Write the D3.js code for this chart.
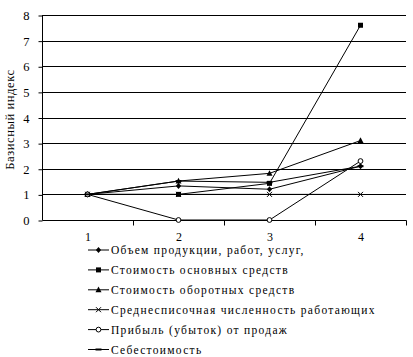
<!DOCTYPE html>
<html><head><meta charset="utf-8">
<script src="https://cdn.jsdelivr.net/npm/d3@7"></script>
<style>body{margin:0;background:#fff}svg{display:block}text{font-family:"Liberation Serif","Times New Roman",serif}</style>
</head><body><svg id="c" width="413" height="357"></svg>
<script>
const categories = ["1","2","3","4"];
const yTicks = [0,1,2,3,4,5,6,7,8];
const seriesNames = [
  "Объем продукции, работ, услуг,",
  "Стоимость основных средств",
  "Стоимость оборотных средств",
  "Среднесписочная численность работающих",
  "Прибыль (убыток) от продаж",
  "Себестоимость"
];
const markers = ["diamond","square","triangle","cross","circle","dash"];
const volume   = [1, 1.33, 1.2, 2.1];
const fixedAss = [1, 1.0, 1.43, 7.6];
const current  = [1, 1.52, 1.82, 3.1];
const staff    = [1, 1, 1, 1];
const profit   = [1, 0, 0, 2.3];
const cost     = [1, 1.52, 1.47, 2.1];
const seriesValues = [volume, fixedAss, current, staff, profit, cost];

const svg = d3.select("#c");
const mL = 42, mR = 406, mT = 15, mB = 220;
const x = d3.scaleBand().domain(categories).range([mL, mR]);
const y = d3.scaleLinear().domain([0, 8]).range([mB, mT]);

// gridlines
svg.append("g").selectAll("line").data(yTicks.slice(1)).join("line")
  .attr("x1", mL).attr("x2", mR)
  .attr("y1", d => Math.round(y(d)) + 0.5).attr("y2", d => Math.round(y(d)) + 0.5)
  .attr("stroke", "#000").attr("stroke-width", 1);

// y axis
const yAxis = d3.axisLeft(y).tickValues(yTicks).tickSize(4).tickPadding(9);
const gy = svg.append("g").attr("transform", `translate(${mL + 0.5},0.5)`).call(yAxis);
gy.select(".domain").attr("d", `M0,${y(8)}V${y(0)}`);
gy.selectAll("text").attr("font-size", 12.5).attr("font-family", "Liberation Serif");

// x axis
const xAxis = d3.axisBottom(x).tickSize(0).tickPadding(12);
const gx = svg.append("g").attr("transform", `translate(0.5,${mB + 0.5})`).call(xAxis);
gx.select(".domain").attr("d", `M${mL},0H${mR}`);
gx.selectAll("text").attr("font-size", 12).attr("font-family", "Liberation Serif");
gx.selectAll(".bt").data(categories).join("line").attr("class","bt")
  .attr("x1", d => x(d) + x.bandwidth()).attr("x2", d => x(d) + x.bandwidth())
  .attr("y1", 0).attr("y2", 5).attr("stroke", "#000");

// y title
svg.append("text").attr("transform", `translate(14,${(mT + mB) / 2 + 2}) rotate(-90)`)
  .attr("text-anchor", "middle").attr("font-size", 12.5).attr("letter-spacing", 0.6).text("Базисный индекс");

function drawMarker(g, type, cx, cy) {
  const s = 2.6;
  if (type === "diamond") g.append("path").attr("d", `M${cx},${cy-s-0.5}L${cx+s},${cy}L${cx},${cy+s+0.5}L${cx-s},${cy}Z`).attr("fill","#000");
  else if (type === "square") g.append("rect").attr("x", cx-2.5).attr("y", cy-2.5).attr("width",5).attr("height",5).attr("fill","#000");
  else if (type === "triangle") g.append("path").attr("d", `M${cx},${cy-3.2}L${cx+3},${cy+2.5}L${cx-3},${cy+2.5}Z`).attr("fill","#000");
  else if (type === "cross") g.append("path").attr("d", `M${cx-2.5},${cy-2.5}L${cx+2.5},${cy+2.5}M${cx-2.5},${cy+2.5}L${cx+2.5},${cy-2.5}`).attr("stroke","#000").attr("stroke-width",1);
  else if (type === "circle") g.append("circle").attr("cx",cx).attr("cy",cy).attr("r",2.4).attr("fill","#fff").attr("stroke","#000").attr("stroke-width",1);
  else if (type === "dash") g.append("path").attr("d", `M${cx-3},${cy}H${cx+3}`).attr("stroke","#000").attr("stroke-width",2);
}

const line = d3.line().x((d, i) => x(categories[i]) + x.bandwidth() / 2).y(d => y(d));
const plot = svg.append("g");
seriesValues.forEach((vals, si) => {
  plot.append("path").attr("d", line(vals)).attr("fill", "none").attr("stroke", "#000").attr("stroke-width", 1);
});
seriesValues.forEach((vals, si) => {
  vals.forEach((v, i) => drawMarker(plot, markers[si], x(categories[i]) + x.bandwidth() / 2, y(v)));
});

// legend
const lg = svg.append("g");
seriesNames.forEach((name, i) => {
  const ly = 250 + i * 19.9;
  lg.append("line").attr("x1", 88).attr("x2", 109).attr("y1", ly).attr("y2", ly).attr("stroke", "#000");
  drawMarker(lg, markers[i], 98.5, ly);
  lg.append("text").attr("x", 111).attr("y", ly + 4).attr("font-size", 11.5).attr("letter-spacing", 1.3).text(name);
});
</script></body></html>
